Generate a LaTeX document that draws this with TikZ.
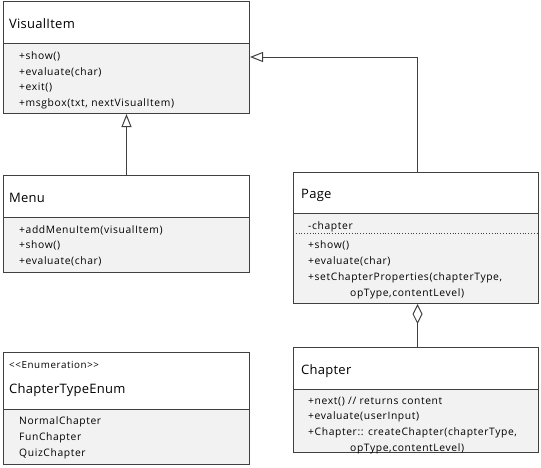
\documentclass[tikz,border=0pt]{standalone}
\usepackage{fontspec}
\setmainfont{Open Sans}
\newfontfamily\memfont[LetterSpace=6]{Open Sans}
\newfontfamily\ttlfont[LetterSpace=2]{Open Sans}
\usetikzlibrary{arrows.meta,calc}
\definecolor{edgec}{HTML}{404040}
\definecolor{compc}{HTML}{F2F2F2}
\tikzset{
 hdr/.style={draw=edgec, fill=white, anchor=north west, inner sep=0, line width=1pt},
 cmp/.style={draw=edgec, fill=compc, anchor=north west, inner sep=0, line width=1pt},
 ttl/.style={anchor=base west, inner sep=0, font=\ttlfont\fontsize{13}{15}\selectfont},
 stereo/.style={anchor=base west, inner sep=0, font=\memfont\fontsize{9.8}{11}\selectfont},
 mem/.style={anchor=base west, inner sep=0, font=\memfont\fontsize{10.3}{12}\selectfont},
 gen/.style={draw=edgec, line width=1pt, -{Triangle[open,length=13pt,width=10pt]}},
 agg/.style={draw=edgec, line width=1pt, -{Diamond[open,length=20pt,width=10pt]}},
 sep/.style={draw=edgec, line width=0.8pt, dotted},
}
\begin{document}
\begin{tikzpicture}[x=1pt,y=-1pt]
\useasboundingbox (0,0) rectangle (541,467);
% VisualItem
\node[hdr, minimum width=246pt, minimum height=42pt] (vihead) at (3,1) {};
\node[cmp, minimum width=246pt, minimum height=70pt] (vibody) at (3,43) {};
\node[ttl] (vit) at (9,28) {VisualItem};
\node[mem] (vi1) at (19,59) {+show()};
\node[mem] (vi2) at (19,75) {+evaluate(char)};
\node[mem] (vi3) at (19,90) {+exit()};
\node[mem] (vi4) at (19,106) {+msgbox(txt, nextVisualItem)};
% Menu
\node[hdr, minimum width=246pt, minimum height=42pt] (mhead) at (3,175) {};
\node[cmp, minimum width=246pt, minimum height=55pt] (mbody) at (3,217) {};
\node[ttl] (mt) at (9,202) {Menu};
\node[mem] (m1) at (19,233) {+addMenuItem(visualItem)};
\node[mem] (m2) at (19,248) {+show()};
\node[mem] (m3) at (19,264) {+evaluate(char)};
% Page
\node[hdr, minimum width=245pt, minimum height=41pt] (phead) at (293,172) {};
\node[cmp, minimum width=245pt, minimum height=90pt] (pbody) at (293,213) {};
\node[ttl] (pt) at (301,198) {Page};
\node[mem] (p0) at (308,229) {-chapter};
\draw[sep] ([yshift=-20pt]pbody.north west) -- ([yshift=-20pt]pbody.north east);
\node[mem] (p1) at (308,248) {+show()};
\node[mem] (p2) at (308,264) {+evaluate(char)};
\node[mem] (p3) at (308,280) {+setChapterProperties(chapterType,};
\node[mem] (p4) at (350,296) {opType,contentLevel)};
% Chapter
\node[hdr, minimum width=245pt, minimum height=42pt] (chead) at (293,347) {};
\node[cmp, minimum width=245pt, minimum height=63pt] (cbody) at (293,389) {};
\node[ttl] (ct) at (301,374) {Chapter};
\node[mem] (c1) at (308,404) {+next() // returns content};
\node[mem] (c2) at (308,419) {+evaluate(userInput)};
\node[mem] (c3) at (308,435) {+Chapter:: createChapter(chapterType,};
\node[mem] (c4) at (350,451) {opType,contentLevel)};
% Enum
\node[hdr, minimum width=246pt, minimum height=57pt] (ehead) at (3,352) {};
\node[cmp, minimum width=246pt, minimum height=55pt] (ebody) at (3,409) {};
\node[stereo] (es) at (9,368) {<{}<Enumeration>{}>};
\node[ttl] (et) at (9,393) {ChapterTypeEnum};
\node[mem] (e1) at (19,424) {NormalChapter};
\node[mem] (e2) at (19,440) {FunChapter};
\node[mem] (e3) at (19,456) {QuizChapter};
% connectors
\draw[gen] (mhead.north) -- (vibody.south);
\draw[gen] ([xshift=1.5pt]phead.north) |- ([yshift=-14pt]vibody.north east);
\draw[agg] ([xshift=1.5pt]chead.north) -- ([xshift=1.5pt]pbody.south);
\end{tikzpicture}
\end{document}
